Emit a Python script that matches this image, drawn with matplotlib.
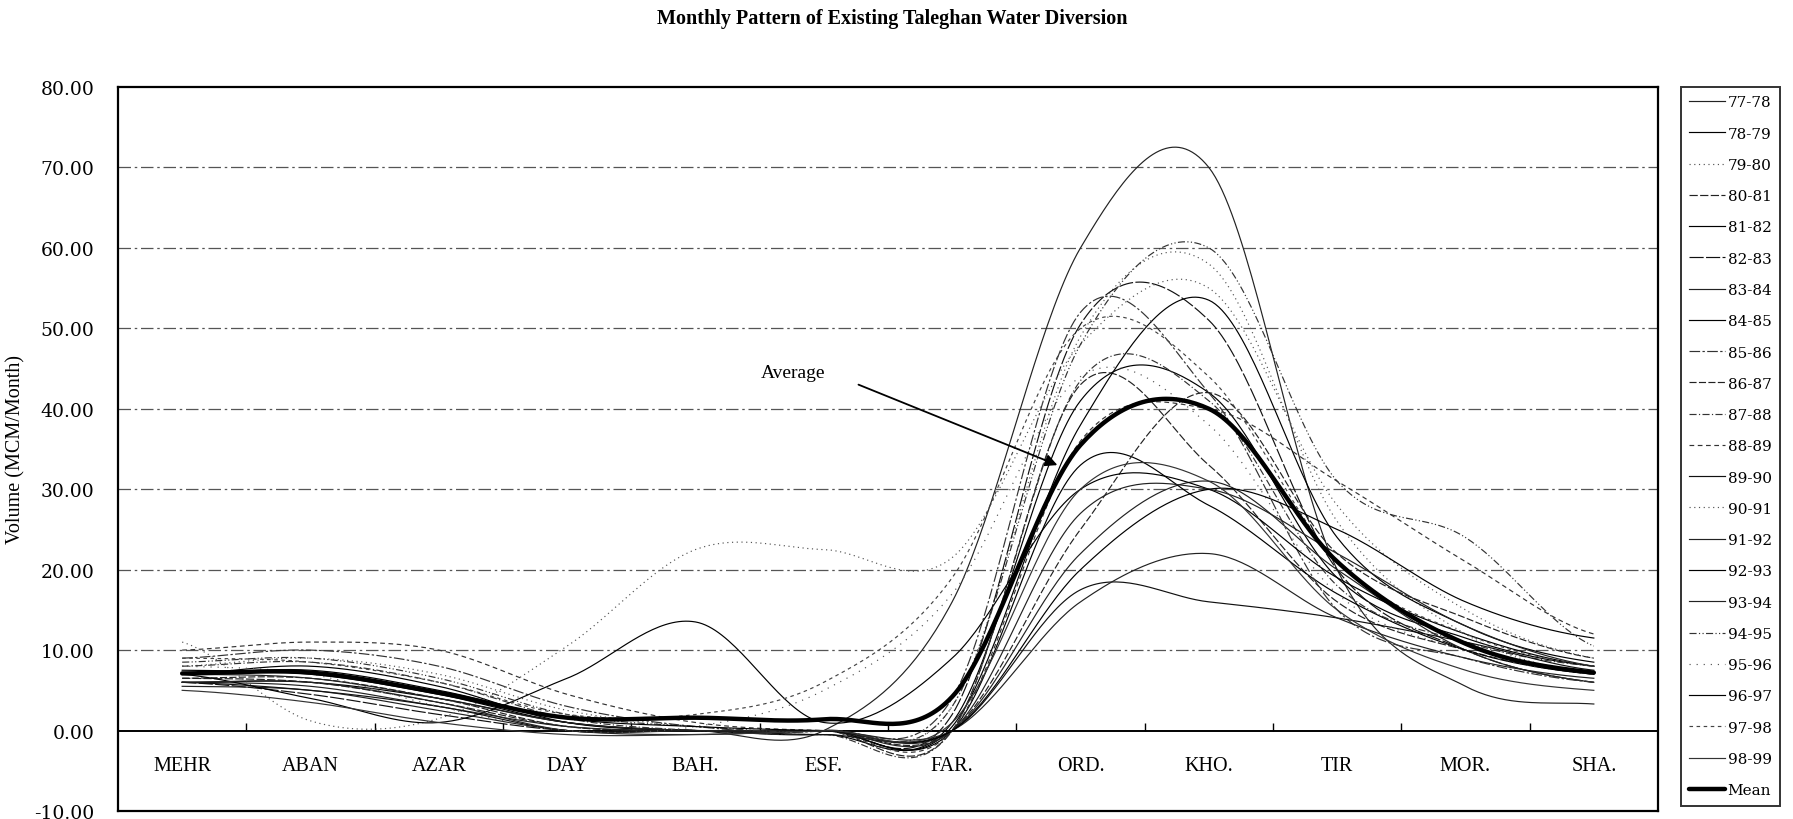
import numpy as np
import matplotlib
matplotlib.use("Agg")
import matplotlib.pyplot as plt

plt.rcParams['font.family'] = ['Liberation Serif', 'DejaVu Serif']

months = ["MEHR", "ABAN", "AZAR", "DAY", "BAH.", "ESF.", "FAR.", "ORD.", "KHO.", "TIR", "MOR.", "SHA."]
yticks = [-10, 0, 10, 20, 30, 40, 50, 60, 70, 80]

s77_78 = [6.0, 5.5, 3.0, 0.5, 0.0, 0.0, 16.0, 60.0, 70.0, 20.0, 5.5, 3.3]
s78_79 = [7.0, 8.0, 5.5, 1.0, 0.0, -0.5, 1.0, 41.0, 42.0, 19.0, 11.5, 8.0]
s79_80 = [8.0, 9.0, 7.0, 2.5, 0.5, 0.0, 3.0, 49.0, 58.0, 26.0, 12.0, 7.0]
s80_81 = [6.5, 6.0, 3.5, 0.5, 0.0, 0.0, 0.0, 43.0, 33.0, 16.0, 10.0, 7.0]
s81_82 = [7.5, 7.0, 4.5, 1.0, 0.0, 0.0, 0.5, 38.0, 53.5, 24.0, 13.0, 8.5]
s82_83 = [6.0, 4.5, 2.0, 0.0, 0.0, 0.0, 2.0, 50.5, 51.0, 20.0, 10.0, 6.0]
s83_84 = [5.5, 5.0, 2.5, 0.0, -0.5, 0.0, 0.0, 22.0, 31.0, 20.0, 10.0, 6.0]
s84_85 = [6.0, 6.0, 4.0, 1.0, 0.0, 0.0, 0.0, 33.0, 28.0, 17.0, 10.0, 7.0]
s85_86 = [9.0, 10.0, 8.0, 3.0, 0.5, 0.0, 4.0, 52.0, 42.0, 15.0, 9.0, 6.0]
s86_87 = [6.5, 6.5, 4.0, 0.5, 0.0, 0.0, 0.0, 25.0, 42.0, 22.0, 14.0, 9.0]
s87_88 = [8.0, 8.5, 6.0, 1.5, 0.0, -0.5, 0.0, 43.5, 41.0, 18.0, 11.0, 8.0]
s88_89 = [10.0, 11.0, 10.0, 4.5, 1.0, 0.0, 0.0, 36.0, 40.0, 31.0, 21.0, 12.0]
s89_90 = [6.0, 5.0, 3.0, 0.0, 0.0, -0.5, 0.0, 17.5, 16.0, 14.0, 11.0, 7.5]
s90_91 = [11.0, 1.2, 1.5, 10.5, 22.5, 22.5, 21.5, 48.0, 55.0, 28.0, 15.0, 9.0]
s91_92 = [7.0, 6.5, 4.0, 1.0, 0.0, 0.0, 0.0, 16.0, 22.0, 14.0, 9.0, 6.5]
s92_93 = [7.0, 4.0, 1.0, 6.5, 13.5, 1.0, 9.0, 30.0, 30.0, 19.0, 12.0, 8.0]
s93_94 = [6.0, 6.0, 3.5, 0.0, 0.0, 0.0, 0.0, 27.0, 30.0, 22.0, 13.0, 8.0]
s94_95 = [8.5, 9.0, 6.5, 2.0, 0.5, 0.0, 3.0, 48.0, 60.0, 31.0, 24.0, 10.5]
s95_96 = [8.0, 7.0, 3.0, 0.0, 0.5, 5.0, 17.0, 44.0, 38.0, 17.0, 10.0, 7.0]
s96_97 = [7.0, 7.5, 5.0, 1.5, 0.5, 0.0, 0.0, 20.0, 30.0, 25.0, 16.0, 11.5]
s97_98 = [9.0, 8.5, 6.0, 2.0, 2.0, 6.0, 19.0, 50.0, 44.0, 21.0, 12.0, 8.0]
s98_99 = [5.0, 3.5, 1.0, -0.5, -0.5, 0.0, 1.0, 30.0, 31.0, 15.0, 7.5, 5.0]
mean = [7.1, 7.2, 4.7, 1.6, 1.6, 1.4, 4.2, 35.5, 40.0, 21.0, 10.8, 7.2]

series_names = ["77-78", "78-79", "79-80", "80-81", "81-82", "82-83", "83-84", "84-85",
                "85-86", "86-87", "87-88", "88-89", "89-90", "90-91", "91-92", "92-93",
                "93-94", "94-95", "95-96", "96-97", "97-98", "98-99"]
series_vals = [s77_78, s78_79, s79_80, s80_81, s81_82, s82_83, s83_84, s84_85,
               s85_86, s86_87, s87_88, s88_89, s89_90, s90_91, s91_92, s92_93,
               s93_94, s94_95, s95_96, s96_97, s97_98, s98_99]

styles = ['-', '-', (0, (1, 3)), (0, (7, 2)), '-', (0, (12, 2)), '-', '-',
          (0, (9, 2, 2, 2)), (0, (6, 2)), (0, (6, 2, 1, 2)), (0, (4, 3)), '-', (0, (1, 3)),
          '-', '-', '-', (0, (6, 2, 1, 2, 1, 2)), (0, (1, 5)), '-', (0, (3, 3)), '-']
colors = ['#222', '#000', '#555', '#222', '#000', '#111', '#222', '#000',
          '#333', '#222', '#333', '#333', '#111', '#555', '#222', '#000',
          '#222', '#333', '#555', '#000', '#444', '#333']


def smooth(vals, n=40):
    """Excel-style smoothed line (Catmull-Rom Bezier) through the data points."""
    y = np.asarray(vals, float)
    x = np.arange(len(y), dtype=float)
    yp = np.concatenate([[y[0]], y, [y[-1]]])
    xs, ys = [], []
    t = np.linspace(0, 1, n)
    for i in range(len(y) - 1):
        p0, p3 = y[i], y[i + 1]
        p1 = p0 + (yp[i + 2] - yp[i]) / 6.0
        p2 = p3 - (yp[i + 3] - yp[i + 1]) / 6.0
        b = ((1 - t) ** 3) * p0 + 3 * ((1 - t) ** 2) * t * p1 + 3 * (1 - t) * t ** 2 * p2 + t ** 3 * p3
        xs.append(x[i] + t)
        ys.append(b)
    return np.concatenate(xs), np.concatenate(ys)


W, H = 1793, 820
fig = plt.figure(figsize=(W / 100, H / 100), dpi=100)
L, R, T, B = 118, 1658, 88, 812
ax = fig.add_axes([L / W, 1 - B / H, (R - L) / W, (B - T) / H])

ax.set_xlim(-0.5, 11.5)
ax.set_ylim(-10, 80)

for y in yticks[2:-1]:
    ax.axhline(y, color='#555', lw=0.9, ls=(0, (10, 3, 2, 3)), zorder=0)
ax.axhline(0, color='black', lw=1.2, zorder=1)

handles = []
for name, vals, st, c in zip(series_names, series_vals, styles, colors):
    xs, ys = smooth(vals)
    ln, = ax.plot(xs, ys, color=c, lw=0.85, ls=st, label=name)
    handles.append(ln)
xs, ys = smooth(mean)
ln, = ax.plot(xs, ys, color='black', lw=3.2, label='Mean', solid_capstyle='round')
handles.append(ln)

ax.set_yticks(yticks)
ax.set_yticklabels([f"{v:.2f}" for v in yticks], fontfamily='DejaVu Serif', fontsize=13.5)
ax.tick_params(axis='y', length=0, pad=17)
ax.set_xticks([])
for s in ax.spines.values():
    s.set_linewidth(1.6)

sec = ax.secondary_xaxis(10 / 90)
sec.set_xticks(range(12))
sec.set_xticklabels(months, fontsize=14.5)
sec.set_xticks(np.arange(0.5, 11, 1), minor=True)
sec.tick_params(axis='x', which='major', length=0, pad=18)
sec.tick_params(axis='x', which='minor', length=6, direction='in', width=1)
sec.spines['bottom'].set_linewidth(1.2)

ax.set_ylabel("Volume (MCM/Month)", fontsize=14.5)
ax.yaxis.set_label_coords(-0.060, 0.5)

fig.text(0.4975, 1 - 19 / H, "Monthly Pattern of Existing Taleghan Water Diversion",
         ha='center', va='center', fontsize=14.5, fontweight='bold')

ax.text(4.76, 44.5, "Average", fontsize=14, ha='center', va='center')
ax.annotate("", xy=(6.82, 33.0), xytext=(5.27, 43.0),
            arrowprops=dict(arrowstyle='-|>', color='black', lw=1.3,
                            mutation_scale=18, shrinkA=0, shrinkB=0))

leg = fig.legend(handles=handles, labels=series_names + ['Mean'], loc='upper left',
                 bbox_to_anchor=(1681 / W, 1 - T / H), frameon=True, fancybox=False,
                 edgecolor='black', prop={'family': 'DejaVu Serif', 'size': 11},
                 labelspacing=1.13, handlelength=2.3, handletextpad=0.2,
                 borderpad=0.55, borderaxespad=0)
leg.get_frame().set_linewidth(1.4)

fig.savefig("out.png", dpi=100)
